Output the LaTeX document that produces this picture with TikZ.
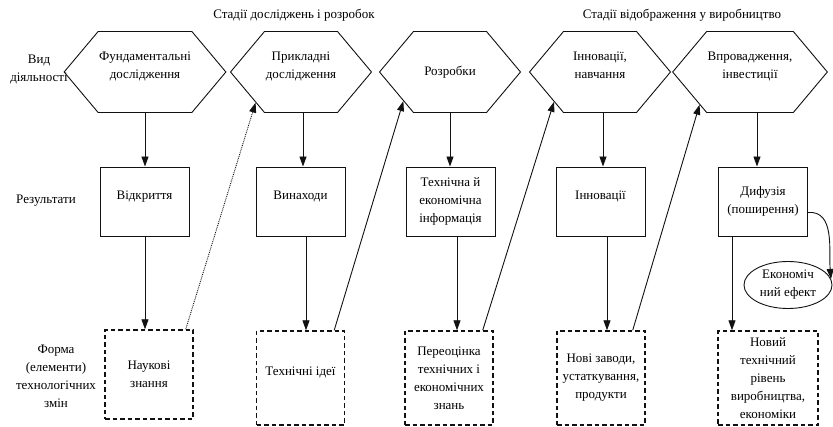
\documentclass[tikz,border=0pt]{standalone}
\usepackage{fontspec}
\setmainfont{Liberation Serif}
\usepackage{xcolor}
\usetikzlibrary{arrows.meta,shapes.symbols,shapes.geometric}
\tikzset{every picture/.append style={font=\rmfamily\fontsize{13}{18}\selectfont}}
\definecolor{figink}{HTML}{111111}
\tikzset{
  hexbox/.style={shape=signal,signal to=west and east,signal pointer angle=100,
    draw=figink,line width=0.9pt,minimum width=141pt,minimum height=81pt,inner sep=1pt,align=center},
  resbox/.style={draw=figink,line width=0.9pt,minimum width=89pt,minimum height=69pt,inner sep=1pt,align=center},
  upper/.style={text depth=13pt},
  formbox/.style={draw=figink,line width=1.4pt,dash pattern=on 4.5pt off 3pt,
    minimum width=88pt,minimum height=94pt,inner sep=1pt,align=center},
  flow/.style={draw=figink,line width=0.9pt,-{Triangle[length=10pt,width=7pt]}},
  lbl/.style={align=center,inner sep=1pt}
}

\begin{document}
\begin{tikzpicture}[x=1pt,y=-1pt]
    \useasboundingbox (0,0) rectangle (833,427);
    \node[lbl] (hdrrd) at (294,15) {Стадії досліджень і розробок};
    \node[lbl] (hdrvyr) at (682,15) {Стадії відображення у виробництво};
    \node[lbl] (lblvyd) at (39,70) {Вид\\діяльності};
    \node[lbl] (lblres) at (46,201) {Результати};
    \node[lbl] (lblform) at (56,376) {Форма\\(елементи)\\технологічних\\змін};
    \node[hexbox,upper,minimum width=148pt] (fund) at (145,72) {Фундаментальні\\дослідження};
    \node[hexbox,upper] (prykl) at (301,72) {Прикладні\\дослідження};
    \node[hexbox] (rozr) at (450,72) {Розробки};
    \node[hexbox,upper] (innov) at (600,72) {Інновації,\\навчання};
    \node[hexbox,upper] (vprov) at (750,72) {Впровадження,\\інвестиції};
    \node[resbox,upper] (vidkr) at (144.5,201.5) {Відкриття};
    \node[resbox,upper] (vynakh) at (300.5,201.5) {Винаходи};
    \node[resbox] (info) at (450.5,201.5) {Технічна й\\економічна\\інформація};
    \node[resbox,upper] (innres) at (600.5,201.5) {Інновації};
    \node[resbox] (dyfuz) at (763,201.5) {Дифузія\\(поширення)};
    \node[draw=figink,line width=0.9pt,ellipse,minimum width=88pt,minimum height=47pt,inner sep=0pt,align=center]
      (efekt) at (788,285) {Економіч\\ний ефект};
    \node[formbox,minimum height=89pt] (nauk) at (149,374.5) {Наукові\\знання};
    \node[formbox,upper] (ideyi) at (300.5,378) {Технічні ідеї};
    \node[formbox] (pereots) at (449,378) {Переоцінка\\технічних і\\економічних\\знань};
    \node[formbox] (zavody) at (601,378) {Нові заводи,\\устаткування,\\продукти};
    \node[formbox,minimum width=100pt] (riven) at (768,378)
      {Новий\\технічний\\рівень\\виробництва,\\економіки};
    \draw[flow] (fund.south) -- (fund.south |- vidkr.north);
    \draw[flow] ([xshift=2pt]prykl.south) -- ([xshift=2pt]prykl.south |- vynakh.north);
    \draw[flow] (rozr.south) -- (rozr.south |- info.north);
    \draw[flow] ([xshift=3pt]innov.south) -- ([xshift=3pt]innov.south |- innres.north);
    \draw[flow] ([xshift=7pt]vprov.south) -- ([xshift=7pt]vprov.south |- dyfuz.north);
    \draw[flow] ([xshift=0.5pt]vidkr.south) -- ([xshift=0.5pt]vidkr.south |- nauk.north);
    \draw[flow] ([xshift=5.5pt]vynakh.south) -- ([xshift=5.5pt]vynakh.south |- ideyi.north);
    \draw[flow] ([xshift=6.5pt]info.south) -- ([xshift=6.5pt]info.south |- pereots.north);
    \draw[flow] ([xshift=6.5pt]innres.south) -- ([xshift=6.5pt]innres.south |- zavody.north);
    \draw[flow] ([xshift=-31pt]dyfuz.south) -- ([xshift=-31pt]dyfuz.south |- riven.north);
    \draw[flow,densely dotted] ([xshift=-8pt]nauk.north east) -- (prykl.214);
    \draw[flow] ([xshift=-11pt]ideyi.north east) -- (rozr.212);
    \draw[flow] ([xshift=-11pt]pereots.north east) -- (innov.213);
    \draw[flow] ([xshift=-13pt]zavody.north east) -- (vprov.213);
    \draw[flow] ([yshift=-11pt]dyfuz.east) to[out=5,in=95] (efekt.8);
\end{tikzpicture}
\end{document}
